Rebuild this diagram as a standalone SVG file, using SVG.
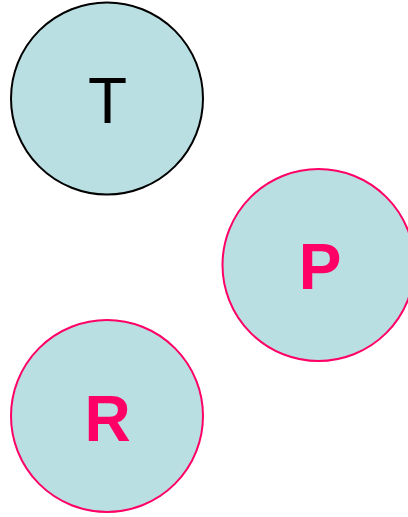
<svg xmlns="http://www.w3.org/2000/svg" width="408" height="517" viewBox="0 0 408 517">
<style>
.c{fill:#BADFE2;stroke-width:2}
.k{stroke:#000}
.p{stroke:#FF0066}
.t{font-family:"Liberation Sans",Arial,sans-serif;font-size:64px;text-anchor:middle}
.b{font-weight:bold;fill:#FF0066}
</style>
<rect width="408" height="517" fill="#fff"/>
<g id="node-T"><circle class="c k" cx="107" cy="98.5" r="96"/><text class="t" x="107.5" y="123" fill="#000">T</text></g>
<g id="node-P"><circle class="c p" cx="318.5" cy="265" r="96"/><text class="t b" x="320" y="289">P</text></g>
<g id="node-R"><circle class="c p" cx="107" cy="416" r="96"/><text class="t b" x="107.5" y="441">R</text></g>
<g id="connectors"></g>
</svg>
